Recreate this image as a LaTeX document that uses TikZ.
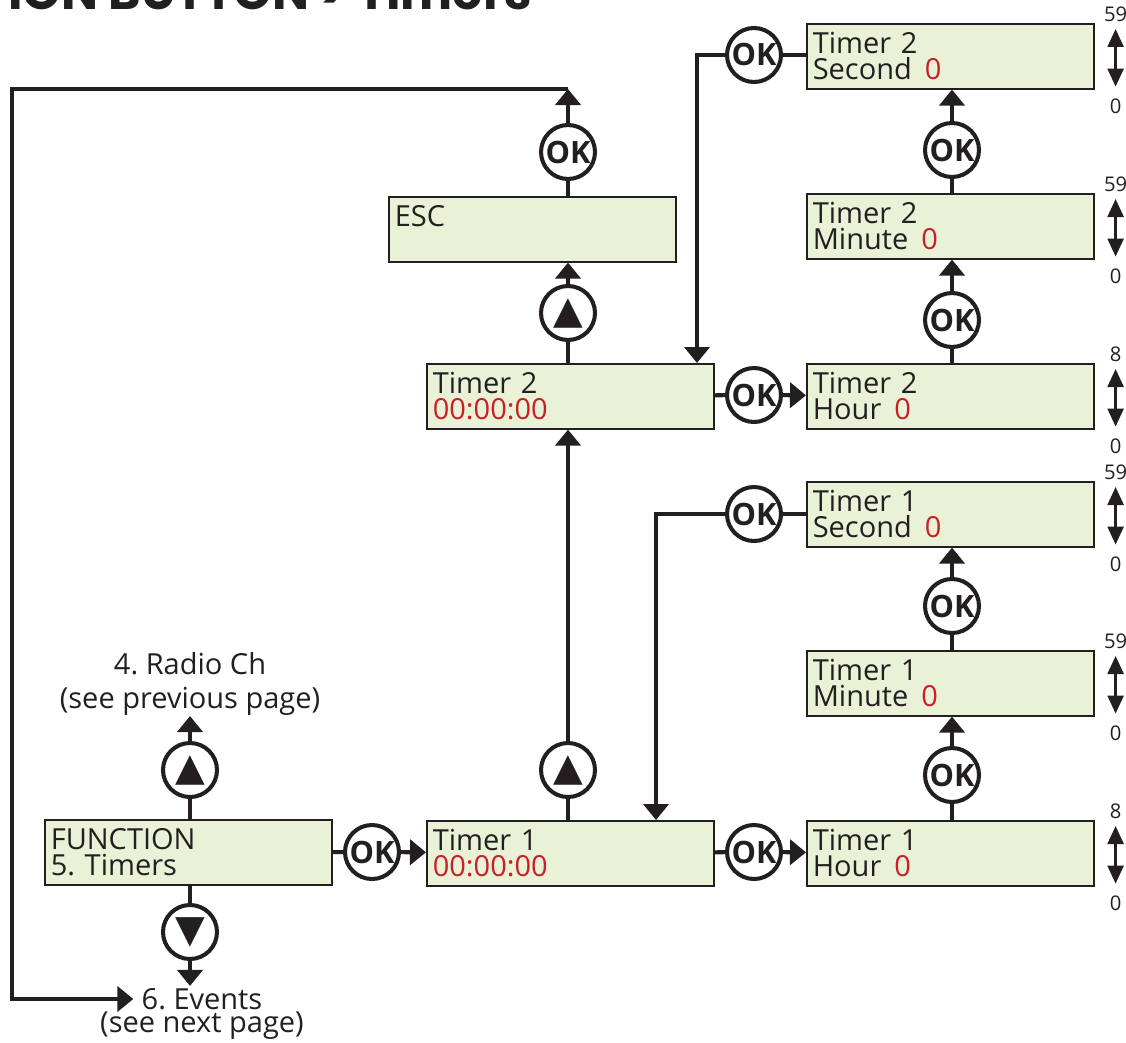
\documentclass[tikz,border=0pt]{standalone}
\usepackage{fontspec}
\setmainfont{Open Sans}
\newfontfamily\symfont{DejaVu Sans}
\newfontfamily\titlefont{Poppins}
\usetikzlibrary{arrows.meta}
\definecolor{lcdgreen}{RGB}{233,242,214}
\definecolor{lcdred}{RGB}{200,32,38}
\definecolor{ink}{RGB}{35,31,32}
\frenchspacing

\begin{document}
\begin{tikzpicture}[x=0.2mm, y=-0.2mm, every node/.style={font=\fontsize{16.5}{15}\selectfont, text=ink},
  lcd/.style={draw=ink,line width=0.9pt,fill=lcdgreen,anchor=north west,minimum width=57.4mm,minimum height=13mm,
    text width=55mm,inner xsep=1.2mm,inner ysep=0pt,align=left},
  btn/.style={circle,draw=ink,line width=2.3pt,fill=white,minimum size=10.8mm,inner sep=0pt,font=\fontsize{17.5}{17.5}\selectfont\bfseries},
  link/.style={draw=ink,line width=2.3pt},
  flow/.style={link,-{Triangle[width=5mm,length=3.2mm]}},
  updown/.style={draw=ink,line width=1.4pt,{Triangle[width=3.2mm,length=3.6mm]}-{Triangle[width=3.2mm,length=3.6mm]}},
  limit/.style={font=\fontsize{11.5}{11.5}\selectfont,inner sep=0.5pt}]
  \useasboundingbox (0,0) rectangle (1126,1042);
  % page title (cut at the top)
  \node[anchor=base east,inner sep=0pt,font=\titlefont\fontsize{28}{28}\selectfont\bfseries] (title) at (532,10) {FUNCTION BUTTON > Timers};
  % screens
  \node[lcd] (fn) at (44,819) {FUNCTION\\5. Timers};
  \node[lcd] (tone) at (426,820) {Timer 1\\\textcolor{lcdred}{00:00:00}};
  \node[lcd] (ttwo) at (426,363) {Timer 2\\\textcolor{lcdred}{00:00:00}};
  \node[lcd] (esc) at (388,196) {ESC\\\mbox{}};
  \node[lcd] (oneh) at (806,820) {Timer 1\\Hour\hspace{0.45em}\textcolor{lcdred}{0}};
  \node[lcd] (onem) at (806,650) {Timer 1\\Minute\hspace{0.45em}\textcolor{lcdred}{0}};
  \node[lcd] (ones) at (806,481) {Timer 1\\Second\hspace{0.45em}\textcolor{lcdred}{0}};
  \node[lcd] (twoh) at (806,363) {Timer 2\\Hour\hspace{0.45em}\textcolor{lcdred}{0}};
  \node[lcd] (twom) at (806,193) {Timer 2\\Minute\hspace{0.45em}\textcolor{lcdred}{0}};
  \node[lcd] (twos) at (806,23) {Timer 2\\Second\hspace{0.45em}\textcolor{lcdred}{0}};
  % neighbour menu entries
  \node[anchor=south,inner sep=0pt,align=center,font=\fontsize{16.5}{19.5}\selectfont] (prev) at (190,716) {4. Radio Ch\\(see previous page)};
  \node[inner xsep=1.6mm,inner ysep=0.4mm] (evt) at (202,999) {6. Events};
  \node[inner sep=0pt] (evtsub) at (202,1026) {(see next page)};
  % buttons
  \node[btn] (okfn) at (372,852) {OK};
  \node[btn] (upfn) at (190,770) {\symfont\fontsize{22}{22}\selectfont ▲};
  \node[btn] (dnfn) at (190,932) {\symfont\fontsize{22}{22}\selectfont ▼};
  \node[btn] (upone) at (568,770) {\symfont\fontsize{22}{22}\selectfont ▲};
  \node[btn] (uptwo) at (568,313) {\symfont\fontsize{22}{22}\selectfont ▲};
  \node[btn] (okesc) at (568,152) {OK};
  \node[btn] (okoneh) at (754,852) {OK};
  \node[btn] (okonem) at (952,775) {OK};
  \node[btn] (okones) at (952,606) {OK};
  \node[btn] (okoneback) at (754,514) {OK};
  \node[btn] (oktwoh) at (754,395) {OK};
  \node[btn] (oktwom) at (952,320) {OK};
  \node[btn] (oktwos) at (952,150) {OK};
  \node[btn] (oktwoback) at (754,55) {OK};
  \coordinate (corner) at (568,89);
  \coordinate (back) at (12,89);
  \coordinate (dropone) at (656,0);
  \coordinate (droptwo) at (697,0);
  % function menu
  \draw[link] (fn) -- (okfn); \draw[flow] (okfn) -- (tone);
  \draw[link] (upfn) -- (upfn |- fn.north); \draw[flow] (upfn) -- (prev);
  \draw[link] (dnfn) -- (dnfn |- fn.south); \draw[flow] (dnfn) -- (dnfn |- evt.north);
  % timer list and escape loop
  \draw[link] (upone) -- (upone |- tone.north); \draw[flow] (upone) -- (upone |- ttwo.south);
  \draw[link] (uptwo) -- (uptwo |- ttwo.north); \draw[flow] (uptwo) -- (uptwo |- esc.south);
  \draw[link] (okesc) -- (okesc |- esc.north); \draw[flow] (okesc) -- (corner);
  \draw[flow] (corner) -- (back) |- (evt.west);
  % timer 1 settings
  \draw[link] (tone) -- (okoneh); \draw[flow] (okoneh) -- (oneh);
  \draw[link] (okonem) -- (okonem |- oneh.north); \draw[flow] (okonem) -- (okonem |- onem.south);
  \draw[link] (okones) -- (okones |- onem.north); \draw[flow] (okones) -- (okones |- ones.south);
  \draw[link] (okoneback) -- (okoneback -| ones.west); \draw[flow] (okoneback) -| (dropone |- tone.north);
  % timer 2 settings
  \draw[link] (ttwo) -- (oktwoh); \draw[flow] (oktwoh) -- (twoh);
  \draw[link] (oktwom) -- (oktwom |- twoh.north); \draw[flow] (oktwom) -- (oktwom |- twom.south);
  \draw[link] (oktwos) -- (oktwos |- twom.north); \draw[flow] (oktwos) -- (oktwos |- twos.south);
  \draw[link] (oktwoback) -- (oktwoback -| twos.west); \draw[flow] (oktwoback) -| (droptwo |- ttwo.north);
  % value ranges
  \foreach \s/\mx in {twos/59,twom/59,twoh/8,ones/59,onem/59,oneh/8}{
    \draw[updown] ([xshift=4.2mm,yshift=-1.2mm]\s.north east) -- ([xshift=4.2mm,yshift=0.6mm]\s.south east);
    \node[limit,anchor=south] (\s max) at ([xshift=4.2mm]\s.north east) {\mx};
    \node[limit,anchor=north] (\s min) at ([xshift=4.2mm,yshift=-1.6mm]\s.south east) {0};
  }
\end{tikzpicture}
\end{document}
